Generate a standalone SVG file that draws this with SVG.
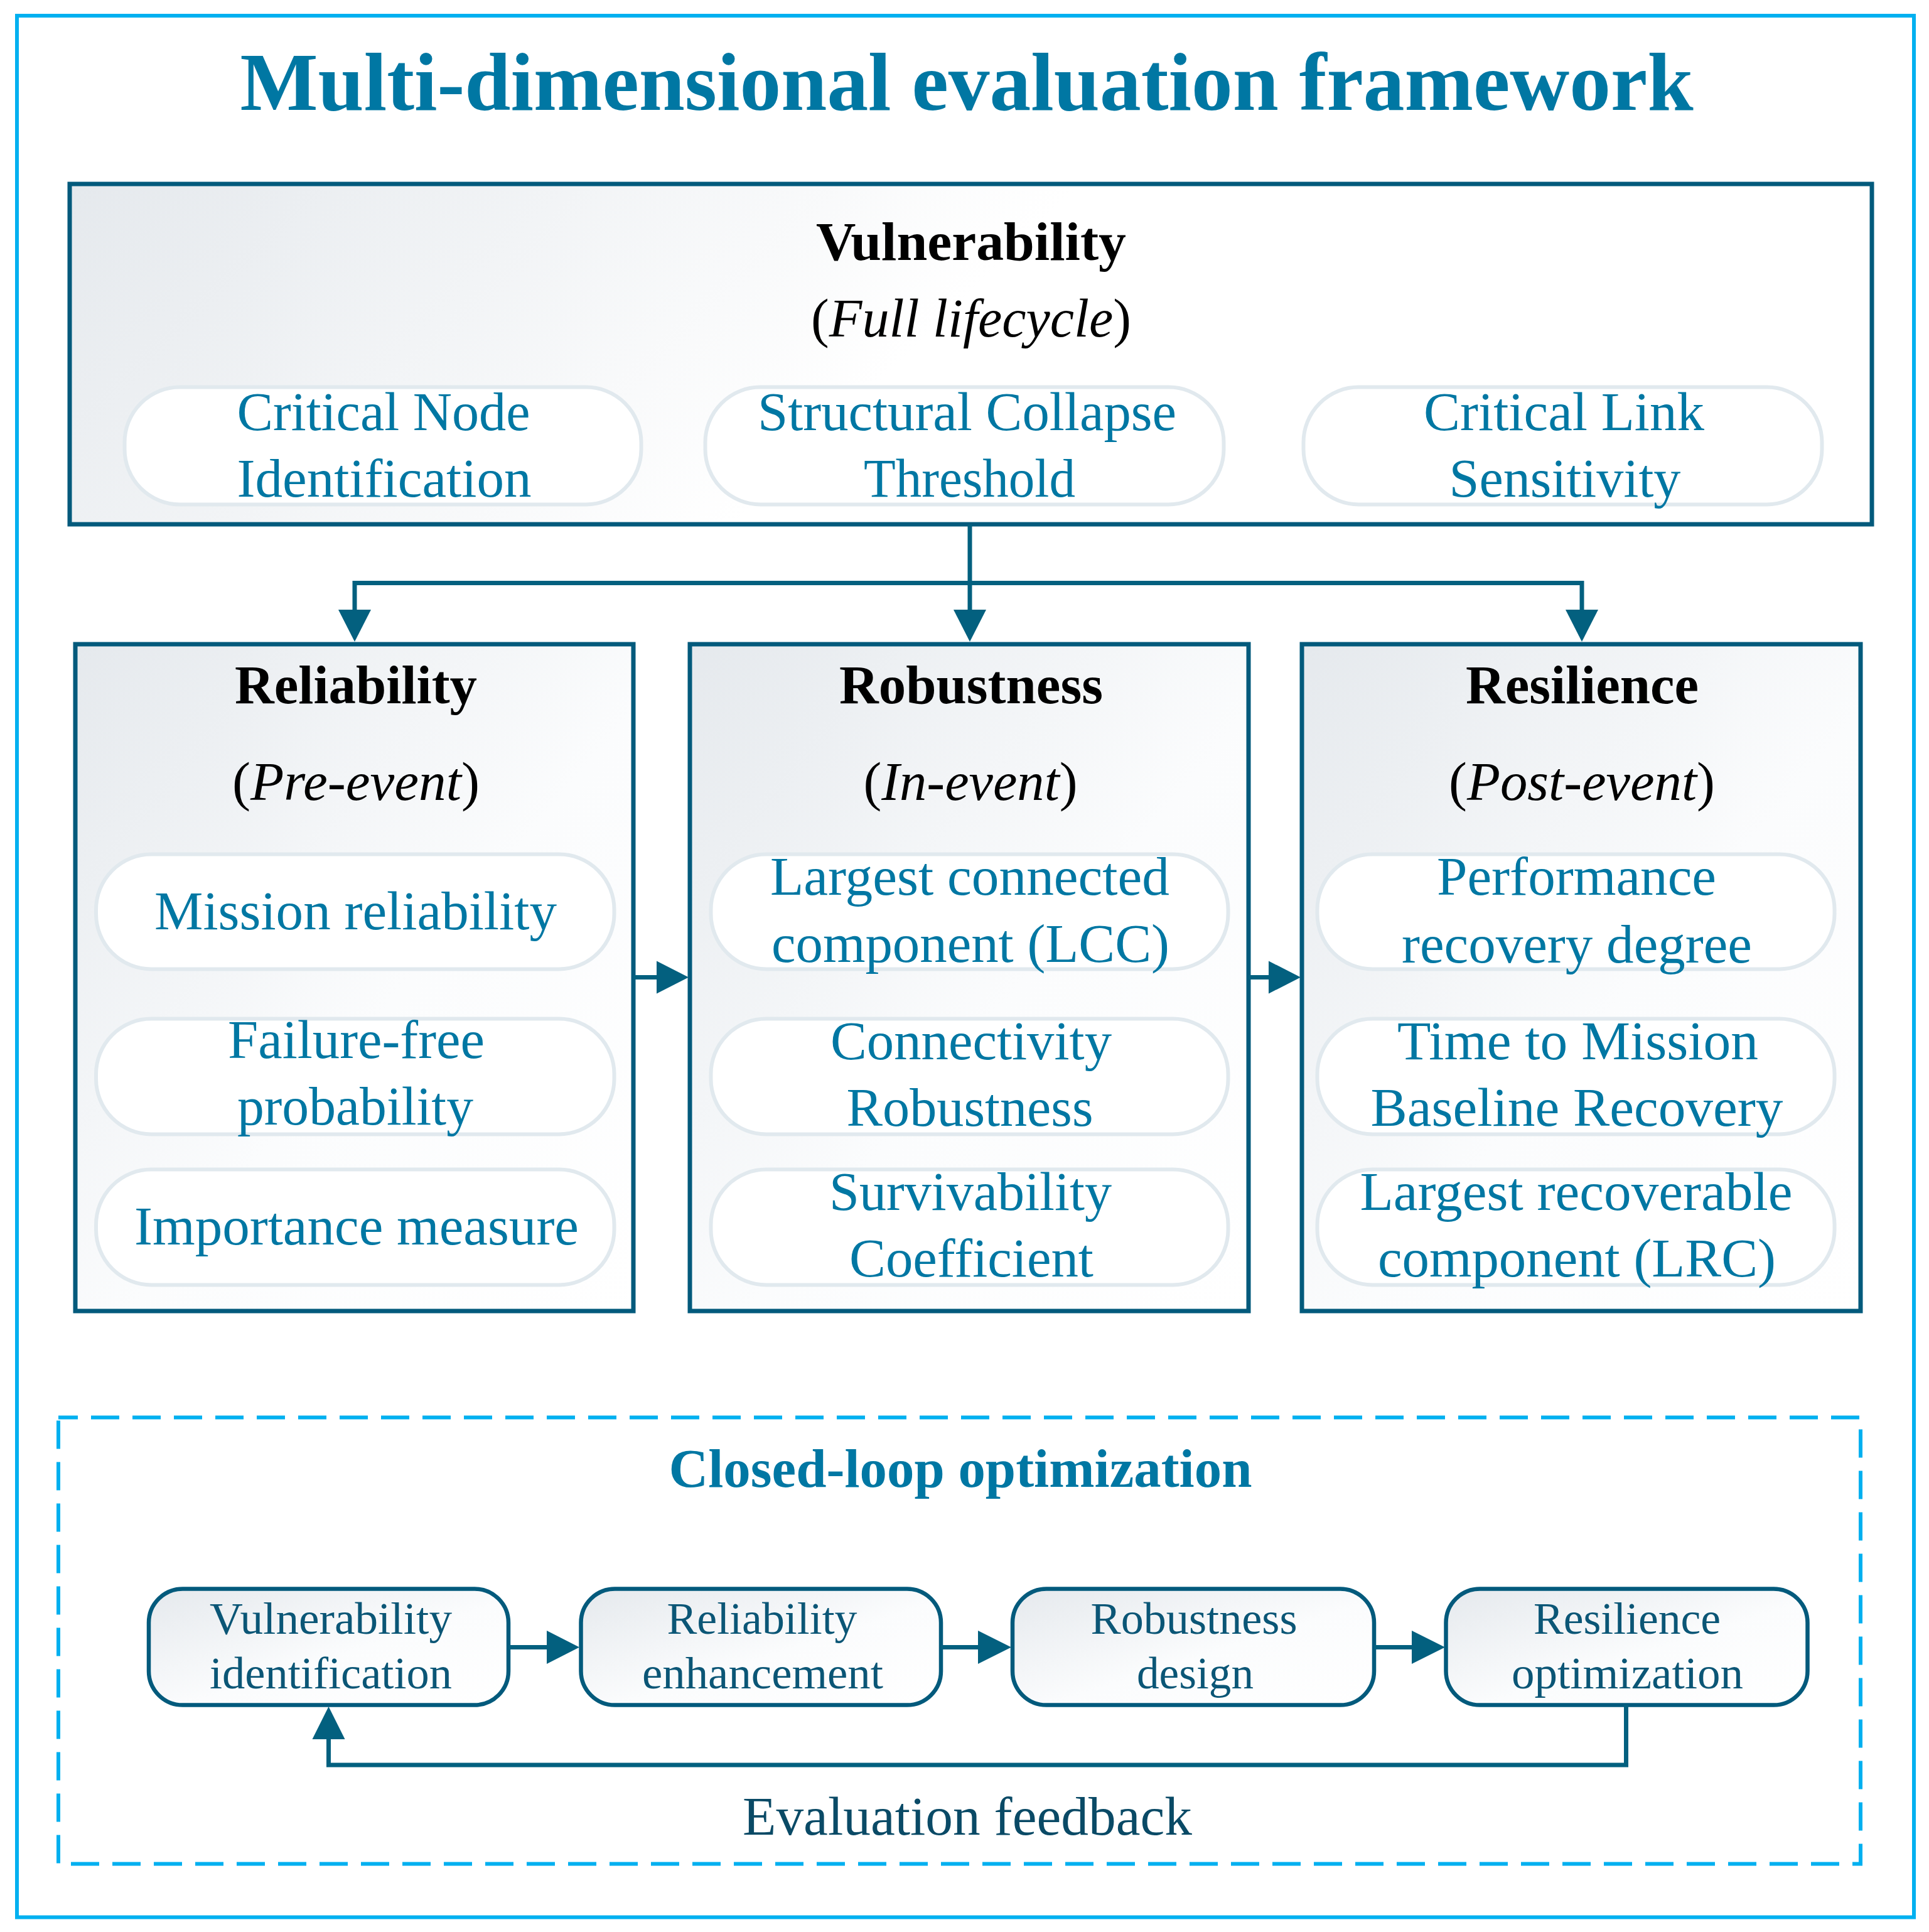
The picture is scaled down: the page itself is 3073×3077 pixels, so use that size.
<svg xmlns="http://www.w3.org/2000/svg" width="3073" height="3077" viewBox="0 0 3073 3077">
<defs>
<linearGradient id="gBox" x1="0" y1="0" x2="1" y2="1">
<stop offset="0" stop-color="#E5E9ED"/>
<stop offset="0.55" stop-color="#FBFCFD"/>
<stop offset="1" stop-color="#FFFFFF"/>
</linearGradient>
<linearGradient id="gWide" gradientUnits="userSpaceOnUse" x1="111" y1="293" x2="900" y2="1100">
<stop offset="0" stop-color="#E5E9ED"/>
<stop offset="1" stop-color="#FFFFFF"/>
</linearGradient>
<style>
.t{font-family:"Liberation Serif","Times New Roman",serif;text-anchor:middle}
.title{font-size:132px;font-weight:bold;fill:#0077A3}
.head{font-size:86px;font-weight:bold;fill:#000}
.sub{font-size:86px;fill:#000}
.pt{font-size:87px;fill:#0077A3}
.nt{font-size:72px;fill:#0B5676}
.fb{font-size:87px;fill:#0A4A66}
.cl{font-size:87px;font-weight:bold;fill:#0077A3}
.box{fill:url(#gBox);stroke:#035A7C;stroke-width:7}
.pill{fill:#FFFFFF;stroke:#E1E9EE;stroke-width:6}
.node{fill:url(#gBox);stroke:#035A7C;stroke-width:6.5}
.ln{fill:none;stroke:#03607F;stroke-width:7}
.ah{fill:#03607F}
</style>
</defs>
<rect x="0" y="0" width="3073" height="3077" fill="#FFFFFF"/>
<rect id="frame" x="27" y="25" width="3022" height="3028.5" fill="none" stroke="#00B0F0" stroke-width="6"/>
<text class="t title" x="1540" y="175" textLength="2315" lengthAdjust="spacingAndGlyphs">Multi-dimensional evaluation framework</text>

<g id="vulnerability">
<rect x="111" y="293" width="2871" height="542" fill="url(#gWide)" stroke="#035A7C" stroke-width="7"/>
<text class="t head" x="1547" y="414" textLength="494" lengthAdjust="spacingAndGlyphs">Vulnerability</text>
<text class="t sub" x="1547" y="536" textLength="510" lengthAdjust="spacingAndGlyphs">(<tspan font-style="italic">Full lifecycle</tspan>)</text>
<g id="v-pill-1"><rect class="pill" x="198.5" y="616.5" width="823" height="187" rx="88"/>
<text class="t pt" x="611" y="685" textLength="467" lengthAdjust="spacingAndGlyphs">Critical Node</text>
<text class="t pt" x="612" y="791" textLength="469" lengthAdjust="spacingAndGlyphs">Identification</text></g>
<g id="v-pill-2"><rect class="pill" x="1123.5" y="616.5" width="826" height="187" rx="88"/>
<text class="t pt" x="1540.5" y="685" textLength="667" lengthAdjust="spacingAndGlyphs">Structural Collapse</text>
<text class="t pt" x="1544.5" y="791" textLength="337" lengthAdjust="spacingAndGlyphs">Threshold</text></g>
<g id="v-pill-3"><rect class="pill" x="2076.5" y="616.5" width="826" height="187" rx="88"/>
<text class="t pt" x="2491.5" y="685" textLength="447" lengthAdjust="spacingAndGlyphs">Critical Link</text>
<text class="t pt" x="2493" y="791" textLength="369" lengthAdjust="spacingAndGlyphs">Sensitivity</text></g>
</g>

<g id="reliability">
<rect class="box" x="120" y="1026" width="889" height="1062"/>
<text class="t head" x="567" y="1120" textLength="386" lengthAdjust="spacingAndGlyphs">Reliability</text>
<text class="t sub" x="567" y="1274" textLength="394" lengthAdjust="spacingAndGlyphs">(<tspan font-style="italic">Pre-event</tspan>)</text>
<rect class="pill" x="153" y="1360.5" width="825.5" height="183" rx="88"/>
<text class="t pt" x="566.5" y="1480" textLength="641" lengthAdjust="spacingAndGlyphs">Mission reliability</text>
<rect class="pill" x="153" y="1622.5" width="825.5" height="184" rx="88"/>
<text class="t pt" x="567.5" y="1685" textLength="409" lengthAdjust="spacingAndGlyphs">Failure-free</text>
<text class="t pt" x="566" y="1791" textLength="376" lengthAdjust="spacingAndGlyphs">probability</text>
<rect class="pill" x="153" y="1862.5" width="825.5" height="184" rx="88"/>
<text class="t pt" x="568" y="1982" textLength="708" lengthAdjust="spacingAndGlyphs">Importance measure</text>
</g>

<g id="robustness">
<rect class="box" x="1099" y="1026" width="890" height="1062"/>
<text class="t head" x="1547" y="1120" textLength="420" lengthAdjust="spacingAndGlyphs">Robustness</text>
<text class="t sub" x="1546" y="1274" textLength="341" lengthAdjust="spacingAndGlyphs">(<tspan font-style="italic">In-event</tspan>)</text>
<rect class="pill" x="1132.5" y="1360.5" width="824" height="183" rx="88"/>
<text class="t pt" x="1545" y="1425" textLength="636" lengthAdjust="spacingAndGlyphs">Largest connected</text>
<text class="t pt" x="1546" y="1532" textLength="634" lengthAdjust="spacingAndGlyphs">component (LCC)</text>
<rect class="pill" x="1132.5" y="1622.5" width="824" height="184" rx="88"/>
<text class="t pt" x="1547" y="1687" textLength="448" lengthAdjust="spacingAndGlyphs">Connectivity</text>
<text class="t pt" x="1545" y="1793" textLength="393" lengthAdjust="spacingAndGlyphs">Robustness</text>
<rect class="pill" x="1132.5" y="1862.5" width="824" height="184" rx="88"/>
<text class="t pt" x="1546" y="1927" textLength="450" lengthAdjust="spacingAndGlyphs">Survivability</text>
<text class="t pt" x="1547.5" y="2033" textLength="389" lengthAdjust="spacingAndGlyphs">Coefficient</text>
</g>

<g id="resilience">
<rect class="box" x="2074" y="1026" width="890" height="1062"/>
<text class="t head" x="2520.5" y="1120" textLength="371" lengthAdjust="spacingAndGlyphs">Resilience</text>
<text class="t sub" x="2520" y="1274" textLength="424" lengthAdjust="spacingAndGlyphs">(<tspan font-style="italic">Post-event</tspan>)</text>
<rect class="pill" x="2098.5" y="1360.5" width="824" height="183" rx="88"/>
<text class="t pt" x="2511.5" y="1425" textLength="445" lengthAdjust="spacingAndGlyphs">Performance</text>
<text class="t pt" x="2512" y="1533" textLength="558" lengthAdjust="spacingAndGlyphs">recovery degree</text>
<rect class="pill" x="2098.5" y="1622.5" width="824" height="184" rx="88"/>
<text class="t pt" x="2513.5" y="1687" textLength="575" lengthAdjust="spacingAndGlyphs">Time to Mission</text>
<text class="t pt" x="2512" y="1793" textLength="657" lengthAdjust="spacingAndGlyphs">Baseline Recovery</text>
<rect class="pill" x="2098.5" y="1862.5" width="824" height="184" rx="88"/>
<text class="t pt" x="2511" y="1927" textLength="689" lengthAdjust="spacingAndGlyphs">Largest recoverable</text>
<text class="t pt" x="2512" y="2033" textLength="634" lengthAdjust="spacingAndGlyphs">component (LRC)</text>
</g>

<g id="closed-loop">
<rect x="93" y="2257.5" width="2871" height="711" fill="none" stroke="#00B0F0" stroke-width="6" stroke-dasharray="45 21" stroke-dashoffset="14"/>
<text class="t cl" x="1530" y="2368" textLength="929" lengthAdjust="spacingAndGlyphs">Closed-loop optimization</text>
<text class="t fb" x="1541" y="2922" textLength="716" lengthAdjust="spacingAndGlyphs">Evaluation feedback</text>
</g>

<g id="node-vuln-id">
<rect class="node" x="237" y="2530.5" width="573" height="185" rx="54"/>
<text class="t nt" x="527" y="2602" textLength="386" lengthAdjust="spacingAndGlyphs">Vulnerability</text>
<text class="t nt" x="527" y="2689" textLength="386" lengthAdjust="spacingAndGlyphs">identification</text>
</g>
<g id="node-rel-enh">
<rect class="node" x="925.5" y="2530.5" width="573.5" height="185" rx="54"/>
<text class="t nt" x="1214" y="2602" textLength="303" lengthAdjust="spacingAndGlyphs">Reliability</text>
<text class="t nt" x="1215" y="2689" textLength="384" lengthAdjust="spacingAndGlyphs">enhancement</text>
</g>
<g id="node-rob-design">
<rect class="node" x="1613" y="2530.5" width="576" height="185" rx="54"/>
<text class="t nt" x="1902" y="2602" textLength="329" lengthAdjust="spacingAndGlyphs">Robustness</text>
<text class="t nt" x="1904" y="2689" textLength="186" lengthAdjust="spacingAndGlyphs">design</text>
</g>
<g id="node-res-opt">
<rect class="node" x="2303.5" y="2530.5" width="576" height="185" rx="54"/>
<text class="t nt" x="2592" y="2602" textLength="298" lengthAdjust="spacingAndGlyphs">Resilience</text>
<text class="t nt" x="2592.5" y="2689" textLength="369" lengthAdjust="spacingAndGlyphs">optimization</text>
</g>

<g id="connectors">
<path class="ln" d="M1545 835 V1000"/>
<path class="ln" d="M565 1000 V928.5 H2520 V1000"/>
<polygon class="ah" points="539,971 591,971 565,1022"/>
<polygon class="ah" points="1519,971 1571,971 1545,1022"/>
<polygon class="ah" points="2494,971 2546,971 2520,1022"/>
<path class="ln" d="M1009 1556.5 H1050"/>
<polygon class="ah" points="1046,1530.5 1046,1582.5 1097,1556.5"/>
<path class="ln" d="M1989 1556.5 H2025"/>
<polygon class="ah" points="2021,1530.5 2021,1582.5 2072,1556.5"/>
<path class="ln" d="M810 2623.5 H875"/>
<polygon class="ah" points="871,2597 871,2650 923,2623.5"/>
<path class="ln" d="M1499 2623.5 H1562"/>
<polygon class="ah" points="1558,2597 1558,2650 1611,2623.5"/>
<path class="ln" d="M2189 2623.5 H2253"/>
<polygon class="ah" points="2249,2597 2249,2650 2302,2623.5"/>
<path class="ln" d="M2590.5 2715 V2811 H523.5 V2766"/>
<polygon class="ah" points="497.5,2770 549.5,2770 523.5,2718"/>
</g>
</svg>
